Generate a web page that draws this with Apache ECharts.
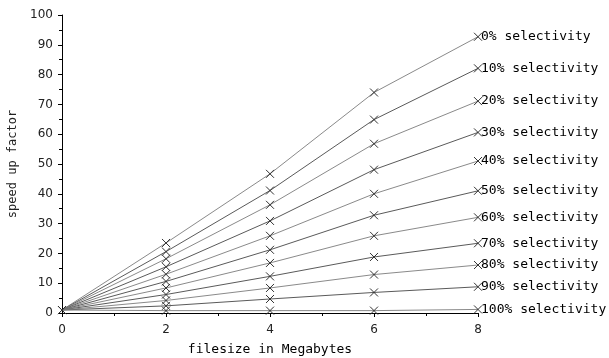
<!DOCTYPE html>
<html>
<head>
<meta charset="utf-8">
<script src="https://cdn.jsdelivr.net/npm/echarts@6/dist/echarts.min.js"></script>
<style>
  html, body { margin: 0; padding: 0; background: #fff; }
  #chart { width: 609px; height: 358px; }
</style>
</head>
<body>
<div id="chart"></div>
<script>
// File sizes (MB) along the x axis
const fileSizes = [0, 2, 4, 6, 8];

// Selectivity levels, one line each
const selectivities = ['0%', '10%', '20%', '30%', '40%', '50%', '60%', '70%', '80%', '90%', '100%'];

// Speed-up factor for each selectivity, at each file size
const speedup0   = [1, 23.5, 46.7, 74.0, 92.7];
const speedup10  = [1, 20.6, 41.1, 64.9, 82.1];
const speedup20  = [1, 18.2, 36.3, 56.8, 71.1];
const speedup30  = [1, 15.5, 30.9, 48.1, 60.6];
const speedup40  = [1, 13.0, 25.9, 40.0, 51.0];
const speedup50  = [1, 10.6, 21.2, 32.8, 41.0];
const speedup60  = [1, 8.4, 16.8, 25.9, 32.1];
const speedup70  = [1, 6.2, 12.3, 18.8, 23.4];
const speedup80  = [1, 4.2, 8.4, 12.9, 16.1];
const speedup90  = [1, 2.4, 4.7, 6.9, 8.8];
const speedup100 = [1, 0.8, 0.8, 0.8, 1.2];

const speedups = [speedup0, speedup10, speedup20, speedup30, speedup40, speedup50,
                  speedup60, speedup70, speedup80, speedup90, speedup100];

const MONO = '"DejaVu Sans Mono", monospace';
const SANS = '"DejaVu Sans", sans-serif';
const CROSS = 'path://M0,0L10,10M10,0L0,10';

const series = selectivities.map((sel, i) => ({
  name: sel + ' selectivity',
  type: 'line',
  data: fileSizes.map((x, j) => [x, speedups[i][j]]),
  symbol: CROSS,
  symbolSize: 8,
  showAllSymbol: true,
  itemStyle: { color: 'none', borderColor: '#333', borderWidth: 1 },
  lineStyle: { color: i % 2 === 0 ? '#8a8a8a' : '#5a5a5a', width: 1 },
  emphasis: { disabled: true },
  endLabel: {
    show: true,
    formatter: '{a}',
    distance: 3,
    color: '#000',
    fontFamily: MONO,
    fontSize: 13
  },
  z: 2
}));

const chart = echarts.init(document.getElementById('chart'), null, { renderer: 'canvas' });
chart.setOption({
  animation: false,
  backgroundColor: '#fff',
  grid: { left: 62, right: 131, top: 15, bottom: 45, containLabel: false, outerBoundsMode: 'none' },
  xAxis: {
    type: 'value',
    min: 0, max: 8, interval: 2,
    name: 'filesize in Megabytes',
    nameLocation: 'middle',
    nameGap: 30,
    nameTextStyle: { fontFamily: MONO, fontSize: 13, color: '#000' },
    axisLine: { show: true, onZero: false, lineStyle: { color: '#000', width: 1 } },
    axisTick: { show: true, length: 4, lineStyle: { color: '#000' } },
    minorTick: { show: true, splitNumber: 2, length: 3, lineStyle: { color: '#000' } },
    axisLabel: { margin: 11, fontFamily: SANS, fontSize: 12, color: '#222' },
    splitLine: { show: false }
  },
  yAxis: {
    type: 'value',
    min: 0, max: 100, interval: 10,
    name: 'speed up factor',
    nameLocation: 'middle',
    nameGap: 37,
    nameTextStyle: { fontFamily: MONO, fontSize: 12, color: '#222' },
    axisLine: { show: true, onZero: false, lineStyle: { color: '#000', width: 1 } },
    axisTick: { show: true, length: 4, lineStyle: { color: '#000' } },
    minorTick: { show: true, splitNumber: 2, length: 3, lineStyle: { color: '#000' } },
    axisLabel: { margin: 9, fontFamily: SANS, fontSize: 12, color: '#222' },
    splitLine: { show: false }
  },
  series: series
});
</script>
</body>
</html>
